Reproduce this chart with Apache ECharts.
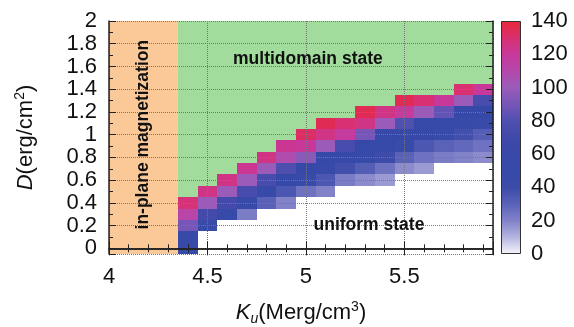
<!DOCTYPE html>
<html>
<head>
<meta charset="utf-8">
<script src="https://cdn.jsdelivr.net/npm/echarts@6/dist/echarts.min.js"></script>
<style>
  html, body { margin: 0; padding: 0; background: #fff; }
  #chart01 { width: 574px; height: 327px; }
</style>
</head>
<body>
<div id="chart01"></div>
<script>
// columns of the phase diagram (Ku, Merg/cm3)
var ku = [4.4, 4.5, 4.6, 4.7, 4.8, 4.9, 5.0, 5.1, 5.2, 5.3, 5.4, 5.5, 5.6, 5.7, 5.8, 5.9];
// lowest D of the coloured band in each column
var dLow = [0.0, 0.2, 0.3, 0.3, 0.4, 0.4, 0.5, 0.5, 0.6, 0.6, 0.6, 0.7, 0.7, 0.8, 0.8, 0.8];
// band values, bottom -> top, one cell per 0.1 of D
var bandValues = [
  [48, 48, 90, 112, 128],
  [45, 72, 100, 125],
  [48, 72, 100, 125],
  [22, 48, 75, 100, 122],
  [30, 48, 75, 100, 125],
  [20, 35, 50, 78, 108, 122],
  [25, 45, 50, 95, 120, 132],
  [20, 35, 48, 50, 100, 125, 135],
  [22, 38, 50, 75, 118, 130],
  [18, 32, 48, 50, 90, 125, 135],
  [15, 25, 40, 50, 55, 100, 125],
  [18, 30, 45, 50, 80, 118, 135],
  [15, 25, 35, 50, 55, 100, 130],
  [22, 30, 45, 50, 85, 120],
  [20, 28, 38, 48, 55, 100, 130],
  [18, 25, 32, 45, 52, 75, 120]
];
var cellStep = 0.1;
var inPlaneMax = 4.35;   // in-plane magnetization below this Ku
var dMin = -0.05, dMax = 2;
var kuMin = 4, kuMax = 5.95;
var colorTicks = [0, 20, 40, 60, 80, 100, 120, 140];

// colour scale 0..140 in steps of 10
var palette = ['#f6f6fc', '#b4b4e0', '#8282c8', '#5a62b8', '#3c4ca8', '#3649a8', '#3848a8', '#4048a8',
  '#5050b0', '#7656b6', '#9a5cb8', '#b448aa', '#c8389a', '#d83070', '#e82838'];

var heat = [], green = [];
for (var i = 0; i < ku.length; i++) {
  var vals = bandValues[i];
  for (var j = 0; j < vals.length; j++) {
    heat.push([ku[i], +(dLow[i] + j * cellStep).toFixed(2), vals[j]]);
  }
  var d = dLow[i] + vals.length * cellStep;
  for (; d <= dMax + 0.001; d += cellStep) {
    green.push([ku[i], +d.toFixed(2)]);
  }
}

function cell(params, api, fill) {
  var x = api.value(0), y = api.value(1);
  var p0 = api.coord([x - cellStep / 2, y + cellStep / 2]);
  var p1 = api.coord([x + cellStep / 2, y - cellStep / 2]);
  var x0 = Math.round(p0[0]), y0 = Math.round(p0[1]);
  return {
    type: 'rect',
    shape: { x: x0, y: y0, width: Math.round(p1[0]) - x0, height: Math.round(p1[1]) - y0 },
    style: { fill: fill || api.visual('color') }
  };
}

var fontSans = 'Liberation Sans';
var dotted = { show: true, lineStyle: { color: '#777', type: 'dotted', width: 1 } };
var frame = { show: true, lineStyle: { color: '#222', width: 1.5 } };

var chart01 = echarts.init(document.getElementById('chart01'), null, { renderer: 'canvas' });
var option = {
  animation: false,
  textStyle: { fontFamily: fontSans },
  grid: [
    { left: 109, top: 21, width: 384, height: 233, outerBoundsMode: 'none' },
    { left: 501, top: 21, width: 20, height: 233, outerBoundsMode: 'none' }
  ],
  visualMap: {
    show: false,
    type: 'continuous',
    min: 0,
    max: 140,
    dimension: 2,
    seriesIndex: 1,
    inRange: { color: palette }
  },
  xAxis: [
    {
      type: 'value', gridIndex: 0, min: kuMin, max: kuMax, interval: 0.5, z: 10,
      axisLine: frame,
      axisTick: { inside: true, length: 7, lineStyle: { color: '#222' } },
      minorTick: { show: true, splitNumber: 5, length: 4, lineStyle: { color: '#222' } },
      splitLine: dotted,
      axisLabel: { fontSize: 22, color: '#111', margin: 12, showMaxLabel: false },
      name: '{it|K}{sub|u}{n|(Merg/cm}{sup|3}{n|)}',
      nameLocation: 'middle',
      nameGap: 46,
      nameTextStyle: {
        rich: {
          it: { fontSize: 22, fontStyle: 'italic', color: '#111', lineHeight: 26 },
          sub: { fontSize: 14, fontStyle: 'italic', color: '#111', verticalAlign: 'bottom', lineHeight: 26 },
          n: { fontSize: 22, color: '#111', lineHeight: 26 },
          sup: { fontSize: 14, color: '#111', verticalAlign: 'top', lineHeight: 26 }
        }
      }
    },
    {
      type: 'value', gridIndex: 0, position: 'top', min: kuMin, max: kuMax, interval: 0.5, z: 10,
      axisLine: frame,
      axisTick: { inside: true, length: 7, lineStyle: { color: '#222' } },
      minorTick: { show: true, splitNumber: 5, length: 4, lineStyle: { color: '#222' } },
      splitLine: { show: false },
      axisLabel: { show: false }
    },
    {
      type: 'category', gridIndex: 1, data: ['c'], show: false
    }
  ],
  yAxis: [
    {
      type: 'value', gridIndex: 0, min: dMin, max: dMax, splitNumber: 10, z: 10,
      axisLine: frame,
      axisTick: { inside: true, length: 7, lineStyle: { color: '#222' } },
      minorTick: { show: true, splitNumber: 2, length: 4, lineStyle: { color: '#222' } },
      splitLine: dotted,
      axisLabel: { fontSize: 22, color: '#111', margin: 12, showMinLabel: false },
      name: '{it|D}{n|(erg/cm}{sup|2}{n|)}',
      nameLocation: 'middle',
      nameGap: 70,
      nameTextStyle: {
        rich: {
          it: { fontSize: 22, fontStyle: 'italic', color: '#111', lineHeight: 26 },
          n: { fontSize: 22, color: '#111', lineHeight: 26 },
          sup: { fontSize: 14, color: '#111', verticalAlign: 'top', lineHeight: 26 }
        }
      }
    },
    {
      type: 'value', gridIndex: 0, position: 'right', min: dMin, max: dMax, splitNumber: 10, z: 10,
      axisLine: frame,
      axisTick: { inside: true, length: 7, lineStyle: { color: '#222' } },
      minorTick: { show: true, splitNumber: 2, length: 4, lineStyle: { color: '#222' } },
      splitLine: { show: false },
      axisLabel: { show: false }
    },
    {
      type: 'value', gridIndex: 1, position: 'right', min: 0, max: 140, interval: 20, z: 10,
      axisLine: { show: false },
      axisTick: { inside: true, length: 5, lineStyle: { color: '#333' } },
      splitLine: { show: false },
      axisLabel: { fontSize: 22, color: '#111', margin: 10 }
    },
    {
      type: 'value', gridIndex: 1, position: 'left', min: 0, max: 140, interval: 20, z: 10,
      axisLine: { show: false },
      axisTick: { inside: true, length: 5, lineStyle: { color: '#333' } },
      splitLine: { show: false },
      axisLabel: { show: false }
    }
  ],
  series: [
    {
      // multidomain region
      type: 'custom',
      xAxisIndex: 0, yAxisIndex: 0,
      clip: true,
      data: green,
      renderItem: function (params, api) { return cell(params, api, '#a2dc9c'); },
      markArea: {
        silent: true,
        itemStyle: { color: '#fbc898' },
        data: [[{ xAxis: kuMin, yAxis: dMin }, { xAxis: inPlaneMax, yAxis: dMax }]]
      }
    },
    {
      // coloured band
      type: 'custom',
      xAxisIndex: 0, yAxisIndex: 0,
      clip: true,
      data: heat,
      renderItem: function (params, api) { return cell(params, api); }
    },
    {
      // colour bar
      type: 'bar',
      xAxisIndex: 2, yAxisIndex: 2,
      barWidth: '100%',
      data: [colorTicks[colorTicks.length - 1]],
      silent: true,
      itemStyle: {
        borderColor: '#333',
        borderWidth: 1,
        color: {
          type: 'linear', x: 0, y: 0, x2: 0, y2: 1,
          colorStops: palette.map(function (c, k) {
            return { offset: 1 - k / (palette.length - 1), color: c };
          }).reverse()
        }
      }
    },
    {
      // region labels
      type: 'scatter',
      xAxisIndex: 0, yAxisIndex: 0,
      symbolSize: 0,
      z: 12,
      silent: true,
      itemStyle: { opacity: 1 },
      data: [
        { name: 'multidomain state', value: [5.01, 1.66] },
        { name: 'uniform state', value: [5.32, 0.2] },
        { name: 'in-plane magnetization', value: [4.175, 1.0], label: { rotate: 90 } }
      ],
      label: {
        show: true,
        position: 'inside',
        formatter: '{b}',
        fontSize: 17.5,
        fontWeight: 'bold',
        color: '#111',
        opacity: 1
      }
    }
  ]
};
chart01.setOption(option);

window.addEventListener('resize', function () {
  chart01.resize();
});
</script>
</body>
</html>
